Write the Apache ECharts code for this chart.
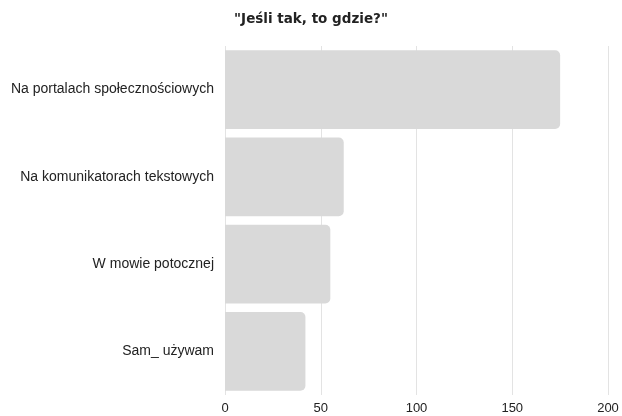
<!DOCTYPE html>
<html>
<head>
<meta charset="utf-8">
<script src="https://cdn.jsdelivr.net/npm/echarts@6/dist/echarts.min.js"></script>
<style>html,body{margin:0;padding:0;background:#fff}#c{width:622px;height:416px}</style>
</head>
<body>
<div id="c"></div>
<script>
const categories = ["Na portalach społecznościowych", "Na komunikatorach tekstowych", "W mowie potocznej", "Sam_ używam"];
const values = [175, 62, 55, 42];
const xTicks = [0, 50, 100, 150, 200];

const chart = echarts.init(document.getElementById('c'));
chart.setOption({
  animation: false,
  title: {
    text: '"Jeśli tak, to gdzie?"',
    left: 'center',
    top: 7,
    textStyle: {fontFamily: 'DejaVu Sans', fontWeight: 'bold', fontSize: 13.5, color: '#222'}
  },
  grid: {left: 225, right: 14, top: 46, bottom: 21, containLabel: false},
  xAxis: {
    type: 'value', min: xTicks[0], max: xTicks[xTicks.length - 1], interval: 50,
    axisLine: {show: false}, axisTick: {show: false},
    axisLabel: {color: '#222', fontFamily: 'Liberation Sans', fontSize: 13, margin: 7},
    splitLine: {lineStyle: {color: '#e3e3e3', width: 1}}
  },
  yAxis: {
    type: 'category', data: categories, inverse: true,
    axisLine: {show: false}, axisTick: {show: false},
    axisLabel: {color: '#222', fontFamily: 'Liberation Sans', fontSize: 14, margin: 11}
  },
  series: [{
    type: 'bar', data: values, barCategoryGap: '10%',
    itemStyle: {color: '#d9d9d9', borderRadius: [0, 5, 5, 0]}
  }]
});
</script>
</body>
</html>
